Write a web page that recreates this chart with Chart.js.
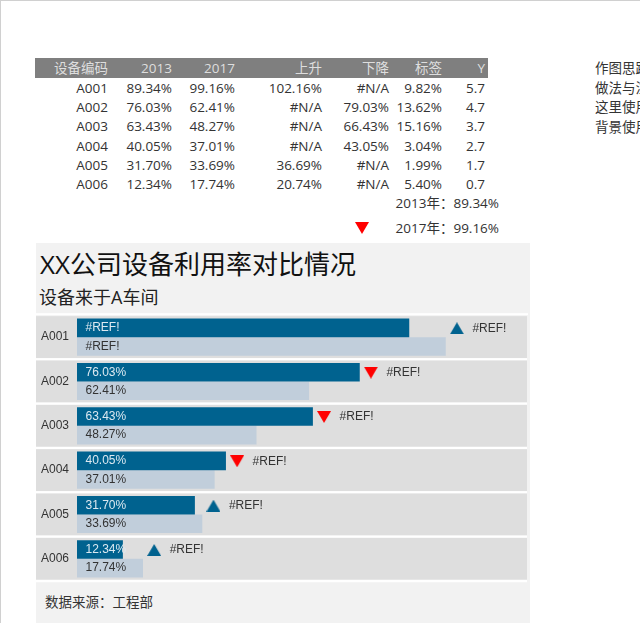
<!DOCTYPE html>
<html lang="zh">
<head>
<meta charset="utf-8">
<script src="https://cdn.jsdelivr.net/npm/chart.js@4"></script>
<style>
  html, body { margin: 0; padding: 0; background: #fff; }
  body { width: 640px; height: 623px; position: relative; overflow: hidden; font-family: "Open Sans", "Noto Sans CJK SC", sans-serif; color: #333; }
  .edge-top { position: absolute; left: 0; top: 0; width: 640px; height: 1px; background: #d0d0d0; }
  .edge-left { position: absolute; left: 0; top: 0; width: 1px; height: 623px; background: #d0d0d0; }
  .head { position: absolute; left: 35px; top: 58px; width: 453px; height: 20px; background: #7f7f7f; }
  .cell { position: absolute; font-size: 13.5px; line-height: 20px; height: 20px; white-space: nowrap; transform: translateX(-100%); }
  .cell.th { color: #dedede; }
  .note { position: absolute; left: 595px; font-size: 13.5px; line-height: 20px; white-space: nowrap; }
  .down-mark { position: absolute; left: 355px; top: 222px; width: 0; height: 0; border-left: 7.5px solid transparent; border-right: 7.5px solid transparent; border-top: 12px solid #ff0000; }
  .panel { position: absolute; left: 36px; top: 243px; width: 494px; height: 380px; background: #f2f2f2; }
  .title { position: absolute; left: 40px; top: 246px; font-size: 26px; line-height: 36px; color: #111; white-space: nowrap; }
  .subtitle { position: absolute; left: 39px; top: 285px; font-size: 18px; line-height: 24px; color: #222; white-space: nowrap; }
  .source { position: absolute; left: 45px; top: 592px; font-size: 13.5px; line-height: 20px; color: #333; white-space: nowrap; }
  .chart-box { position: absolute; left: 36px; top: 0; width: 493px; height: 623px; }
</style>
</head>
<body>
<div class="edge-top"></div>
<div class="edge-left"></div>
<div class="head"></div>
<div id="table"></div>
<div class="note" style="top:58px">作图思路</div>
<div class="note" style="top:78px">做法与注</div>
<div class="note" style="top:97px">这里使用</div>
<div class="note" style="top:117px">背景使用</div>
<div class="down-mark"></div>
<div class="panel"></div>
<div class="title">XX公司设备利用率对比情况</div>
<div class="subtitle">设备来于A车间</div>
<div class="source">数据来源：工程部</div>
<div class="chart-box"><canvas id="chart" width="493" height="623"></canvas></div>

<script>
const categories = ['A001', 'A002', 'A003', 'A004', 'A005', 'A006'];
const values2013 = [89.34, 76.03, 63.43, 40.05, 31.70, 12.34];
const values2017 = [99.16, 62.41, 48.27, 37.01, 33.69, 17.74];
const upValues = [102.16, null, null, null, 36.69, 20.74];
const downValues = [null, 79.03, 66.43, 43.05, null, null];
const tagValues = [9.82, 13.62, 15.16, 3.04, 1.99, 5.40];
const yValues = [5.7, 4.7, 3.7, 2.7, 1.7, 0.7];
const labels2013 = ['#REF!', '76.03%', '63.43%', '40.05%', '31.70%', '12.34%'];
const labels2017 = ['#REF!', '62.41%', '48.27%', '37.01%', '33.69%', '17.74%'];
const markLabel = '#REF!';
const tableHeaders = ['设备编码', '2013', '2017', '上升', '下降', '标签', 'Y'];

const BLUE = '#00628f', LIGHT = '#c1cedb', RED = '#ff0000', BAND = '#dedede';

// ---- table above the chart ----
const colRight = [108, 172, 235, 322, 389, 442, 485];
const rowTop = [78, 97, 116, 136, 155, 174];
const pct = v => v === null ? '#N/A' : v.toFixed(2) + '%';

function addCell(text, right, top, cls) {
  const d = document.createElement('div');
  d.className = 'cell' + (cls ? ' ' + cls : '');
  d.style.left = right + 'px';
  d.style.top = top + 'px';
  d.textContent = text;
  document.getElementById('table').appendChild(d);
}
tableHeaders.forEach((h, i) => addCell(h, colRight[i], 58, 'th'));
categories.forEach((c, i) => {
  const row = [c, pct(values2013[i]), pct(values2017[i]), pct(upValues[i]), pct(downValues[i]), pct(tagValues[i]), yValues[i].toFixed(1)];
  row.forEach((t, j) => addCell(t, colRight[j], rowTop[i]));
});
addCell('2013年：' + pct(values2013[0]), 499, 193);
addCell('2017年：' + pct(values2017[0]), 499, 218);

// triangle centred on its box, so the Y column lands on the middle of the mark
function triangle(color, up) {
  const w = 14, h = 12;
  const c = document.createElement('canvas');
  c.width = w; c.height = h;
  const g = c.getContext('2d');
  g.fillStyle = color;
  g.beginPath();
  if (up) { g.moveTo(w / 2, 0); g.lineTo(w, h); g.lineTo(0, h); }
  else { g.moveTo(0, 0); g.lineTo(w, 0); g.lineTo(w / 2, h); }
  g.closePath();
  g.fill();
  return c;
}

const toPoints = arr => arr.map((v, i) => v === null ? null : { x: v, y: yValues[i] }).filter(Boolean);

// grey row bands, painted before the axis labels
const bandPlugin = {
  id: 'bands',
  beforeDraw(chart) {
    const { ctx, scales: { y }, chartArea } = chart;
    ctx.save();
    ctx.fillStyle = '#fff';
    ctx.fillRect(0, y.getPixelForValue(0) - 24, chartArea.right + 1, 2);
    categories.forEach((c, i) => {
      const mid = y.getPixelForValue(i);
      ctx.fillStyle = BAND;
      ctx.fillRect(0, mid - 21, chartArea.right, 42);
      ctx.fillStyle = '#fff';
      ctx.fillRect(0, mid + 21, chartArea.right, 2.4);
    });
    ctx.restore();
  }
};

// text inside the bars and beside the triangles
const labelPlugin = {
  id: 'barLabels',
  afterDatasetsDraw(chart) {
    const { ctx, scales: { x } } = chart;
    const base = x.getPixelForValue(0) + 8.5;
    ctx.save();
    ctx.font = '12px "Liberation Sans", sans-serif';
    ctx.textBaseline = 'middle';
    ctx.textAlign = 'left';
    chart.getDatasetMeta(0).data.forEach((bar, i) => {
      ctx.fillStyle = '#dce9f1';
      ctx.fillText(labels2013[i], base, bar.y);
    });
    chart.getDatasetMeta(1).data.forEach((bar, i) => {
      ctx.fillStyle = '#333';
      ctx.fillText(labels2017[i], base, bar.y);
    });
    [2, 3].forEach(n => {
      chart.getDatasetMeta(n).data.forEach(pt => {
        ctx.fillStyle = '#333';
        ctx.fillText(markLabel, pt.x + 15.5, pt.y);
      });
    });
    ctx.restore();
  }
};

new Chart(document.getElementById('chart'), {
  type: 'bar',
  plugins: [bandPlugin, labelPlugin],
  data: {
    labels: categories,
    datasets: [
      { label: '2013', data: values2013, backgroundColor: BLUE, indexAxis: 'y', categoryPercentage: 0.84, barPercentage: 1, xAxisID: 'x', yAxisID: 'y', order: 2 },
      { label: '2017', data: values2017, backgroundColor: LIGHT, indexAxis: 'y', categoryPercentage: 0.84, barPercentage: 1, xAxisID: 'x', yAxisID: 'y', order: 2 },
      { type: 'scatter', label: '上升', data: toPoints(upValues), xAxisID: 'x', yAxisID: 'y2', pointStyle: triangle(BLUE, true), order: 1 },
      { type: 'scatter', label: '下降', data: toPoints(downValues), xAxisID: 'x', yAxisID: 'y2', pointStyle: triangle(RED, false), order: 1 }
    ]
  },
  options: {
    responsive: false,
    animation: false,
    layout: { autoPadding: false, padding: { top: 315, right: 2, bottom: 42, left: 0 } },
    plugins: { legend: { display: false }, tooltip: { enabled: false } },
    scales: {
      x: { type: 'linear', min: 0, max: 121, offset: false, display: false },
      y: {
        type: 'category',
        offset: true,
        grid: { display: false, drawTicks: false },
        border: { display: false },
        ticks: { color: '#333', padding: 8, font: { family: '"Liberation Sans", sans-serif', size: 12 } },
        afterFit(scale) { scale.width = 41; }
      },
      y2: { type: 'linear', min: 0, max: 6, offset: false, display: false }
    }
  }
});
</script>
</body>
</html>
